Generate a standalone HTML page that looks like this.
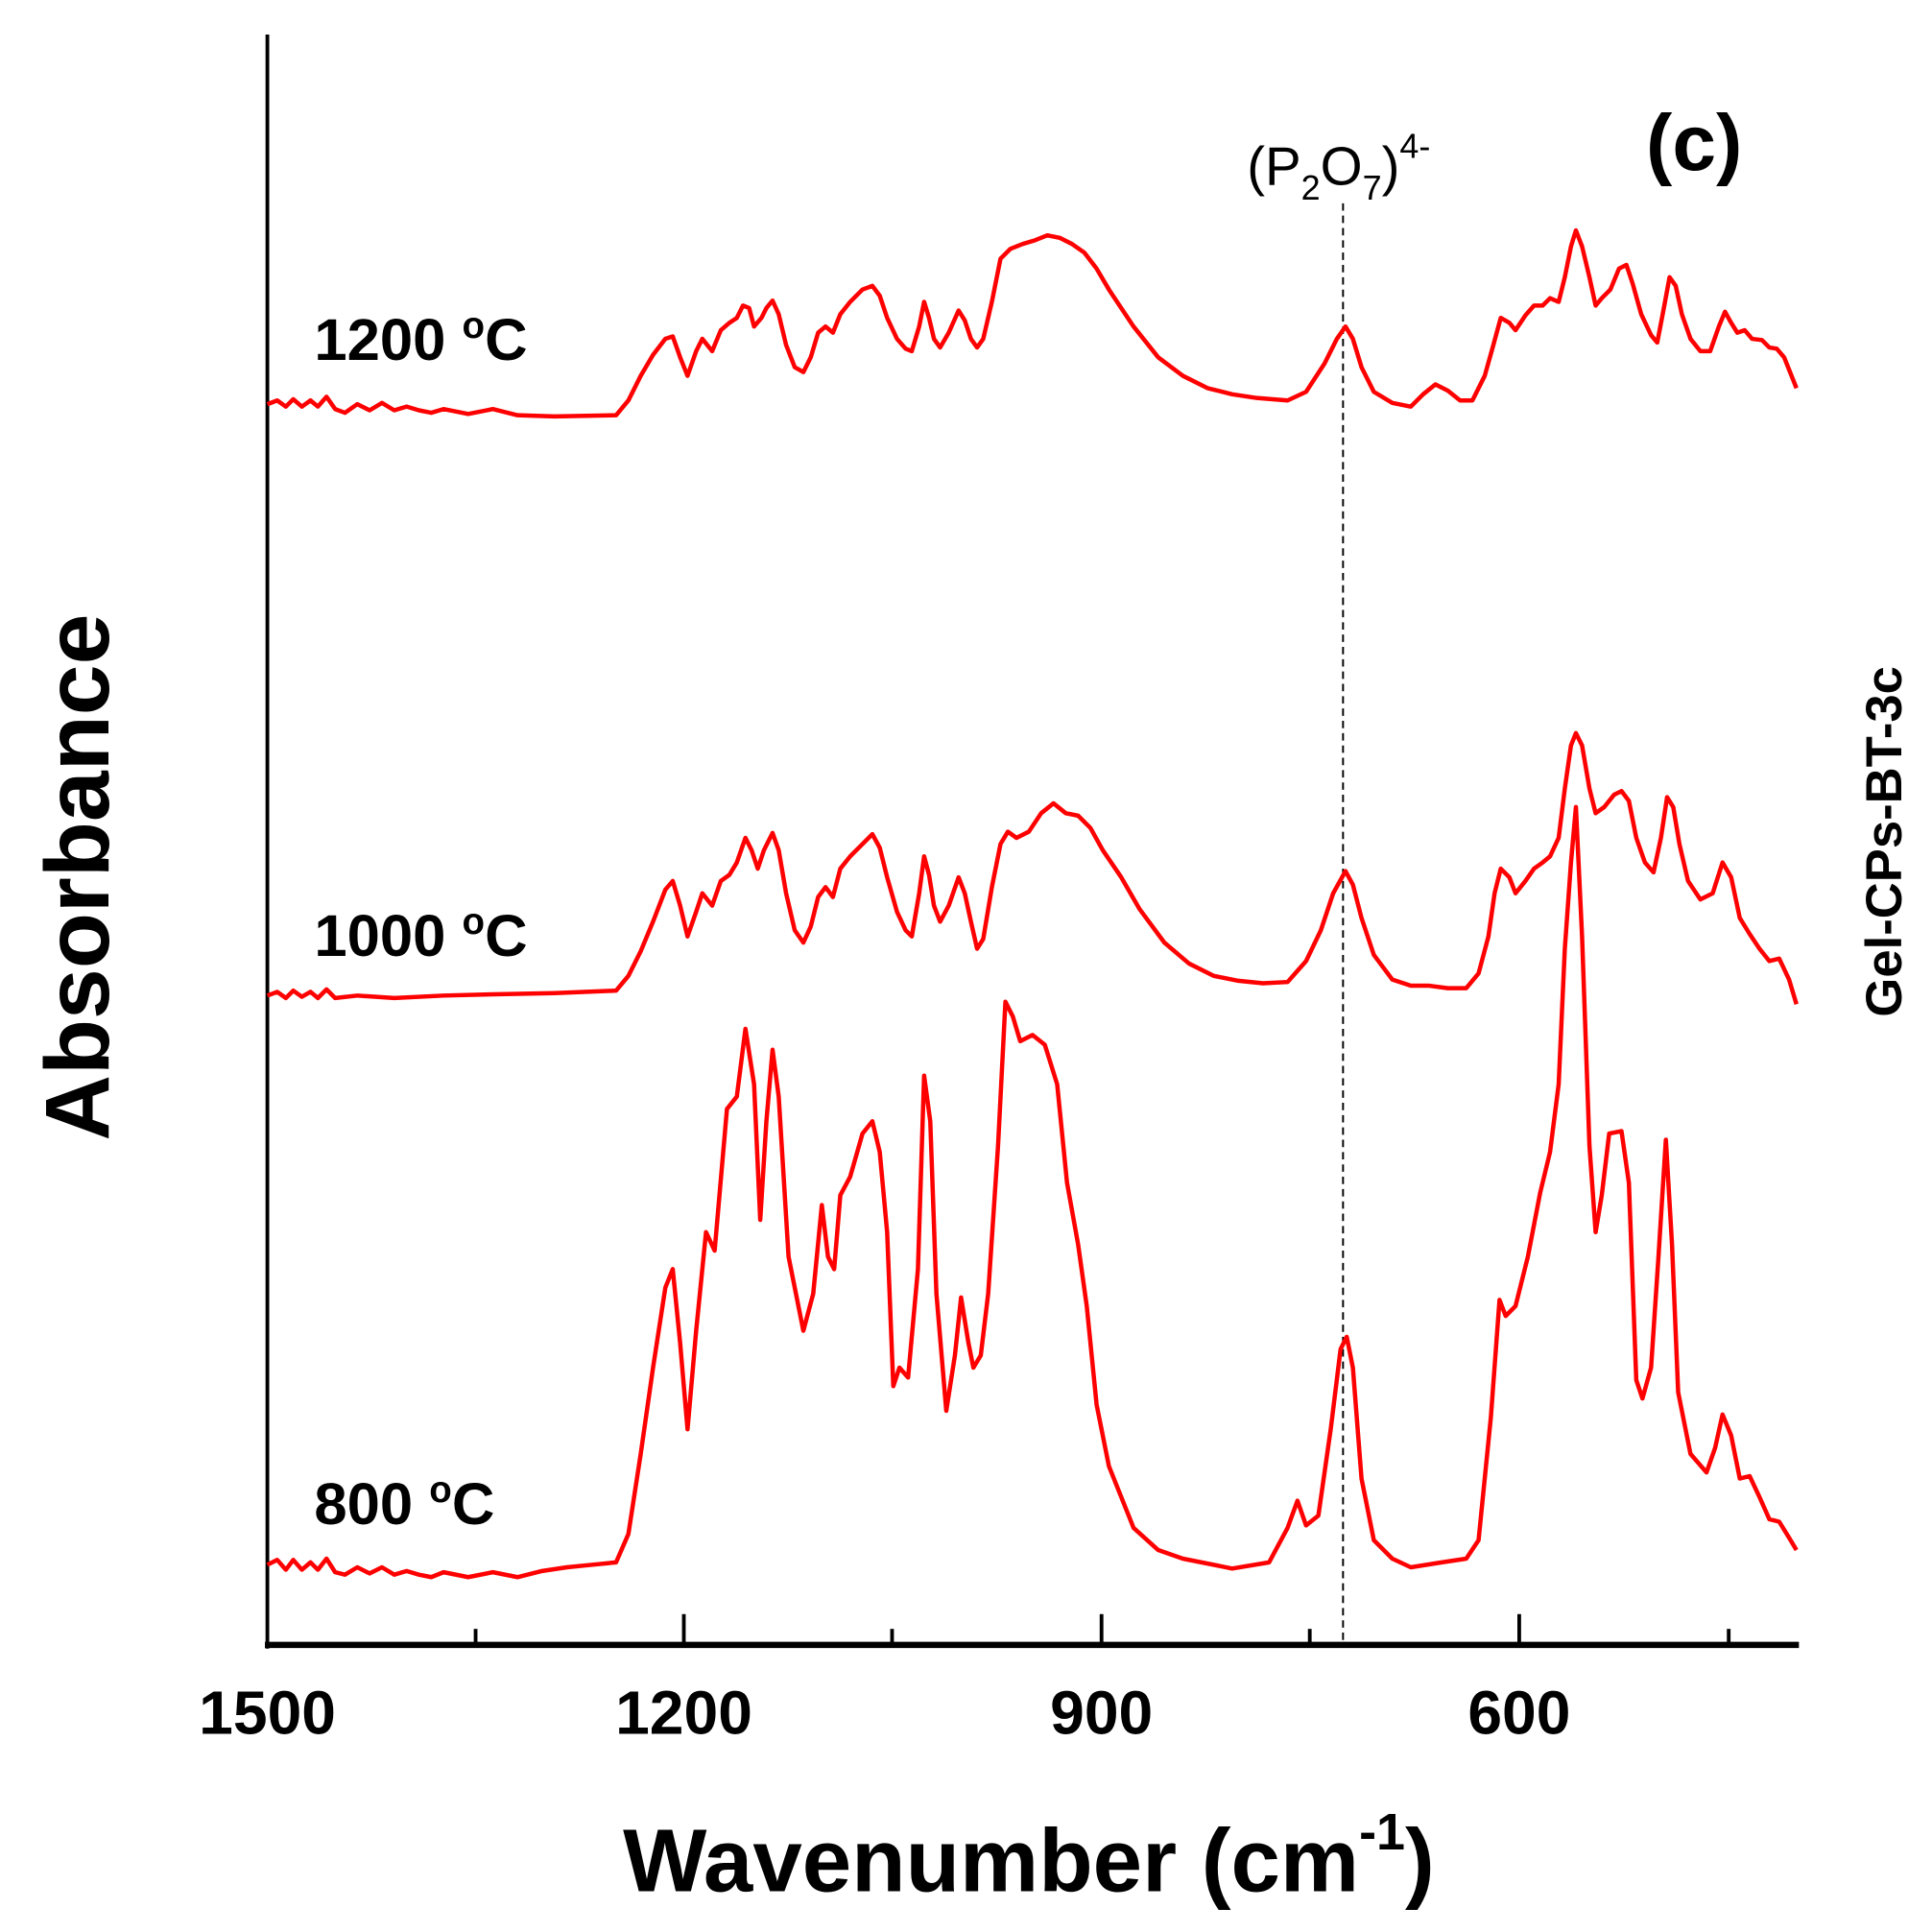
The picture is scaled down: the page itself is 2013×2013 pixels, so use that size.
<!DOCTYPE html>
<html><head><style>html,body{margin:0;padding:0;background:#fff}svg{display:block}</style></head>
<body>
<svg width="2013" height="2013" viewBox="0 0 1568 1568" xmlns="http://www.w3.org/2000/svg" font-family="'Liberation Sans', Arial, sans-serif">
<rect width="1568" height="1568" fill="#fff"/>
<!-- axes -->
<line x1="217" y1="28" x2="217" y2="1338" stroke="#000" stroke-width="3"/>
<line x1="215" y1="1335" x2="1460" y2="1335" stroke="#000" stroke-width="5"/>
<g stroke="#000" stroke-width="3">
<line x1="555" y1="1335" x2="555" y2="1310"/><line x1="894" y1="1335" x2="894" y2="1310"/><line x1="1233" y1="1335" x2="1233" y2="1310"/>
<line x1="386" y1="1335" x2="386" y2="1322"/><line x1="724" y1="1335" x2="724" y2="1322"/><line x1="1063" y1="1335" x2="1063" y2="1322"/><line x1="1403" y1="1335" x2="1403" y2="1322"/>
</g>
<line x1="1090" y1="165" x2="1090" y2="1333" stroke="#000" stroke-width="1.5" stroke-dasharray="6,4"/>
<g font-weight="bold" font-size="50" text-anchor="middle" fill="#000">
<text x="217" y="1407">1500</text><text x="555" y="1407">1200</text><text x="894" y="1407">900</text><text x="1233" y="1407">600</text>
</g>
<text x="835" y="1535" font-size="72" font-weight="bold" text-anchor="middle">Wavenumber (cm<tspan font-size="42" dy="-34">-1</tspan><tspan dy="34">)</tspan></text>
<text transform="translate(88,712) rotate(-90)" font-size="74" font-weight="bold" text-anchor="middle">Absorbance</text>
<text transform="translate(1543,683) rotate(-90)" font-size="41" font-weight="bold" text-anchor="middle">Gel-CPs-BT-3c</text>
<text x="1375" y="138" font-size="64" font-weight="bold" text-anchor="middle">(c)</text>
<text x="1012" y="150" font-size="44">(P<tspan font-size="28" dy="12">2</tspan><tspan dy="-12">O</tspan><tspan font-size="28" dy="12">7</tspan><tspan dy="-12">)</tspan><tspan font-size="28" dy="-22">4-</tspan></text>
<g font-size="48" font-weight="bold">
<text x="255" y="292">1200 <tspan font-size="30" dy="-18">o</tspan><tspan dy="18">C</tspan></text>
<text x="255" y="776">1000 <tspan font-size="30" dy="-18">o</tspan><tspan dy="18">C</tspan></text>
<text x="255" y="1237">800 <tspan font-size="30" dy="-18">o</tspan><tspan dy="18">C</tspan></text>
</g>
<g fill="none" stroke="#f00" stroke-width="3.5" stroke-linejoin="round">
<polyline points="217,328 225,325 232,330 238,324 245,330 252,325 258,330 265,322 272,332 280,335 290,328 300,333 310,327 320,333 330,330 340,333 350,335 360,332 380,336 400,332 420,337 450,338 500,337 510,325 520,305 530,288 540,275 546,273 552,290 558,305 565,285 570,275 578,285 585,268 592,262 598,258 603,248 608,250 612,265 618,258 622,250 627,244 632,255 638,280 645,298 652,302 658,290 664,270 670,265 676,270 682,255 690,245 700,235 708,232 714,240 720,258 728,275 735,283 740,285 746,265 750,245 754,258 758,275 763,282 770,270 778,252 783,260 788,275 793,282 798,275 805,245 812,210 820,202 830,198 840,195 850,191 860,193 870,198 880,205 890,218 900,235 920,265 940,290 960,305 980,315 1000,320 1020,323 1045,325 1060,318 1075,295 1085,275 1092,265 1098,275 1105,298 1115,318 1130,327 1145,330 1155,320 1165,312 1175,317 1185,325 1195,325 1205,305 1212,280 1218,258 1225,262 1230,268 1238,256 1245,248 1252,248 1258,242 1265,245 1270,225 1275,200 1279,187 1284,200 1290,225 1295,248 1300,242 1307,235 1314,218 1320,215 1325,230 1332,255 1340,272 1345,278 1350,252 1355,225 1360,232 1365,255 1372,275 1380,285 1388,285 1395,265 1400,253 1405,262 1410,270 1416,268 1422,275 1430,276 1436,282 1442,283 1448,290 1452,300 1458,315"/>
<polyline points="217,808 225,805 232,810 238,804 245,809 252,805 258,810 265,803 272,810 290,808 320,810 360,808 400,807 450,806 500,804 510,792 520,772 530,748 540,722 546,715 552,735 558,760 565,740 570,725 578,735 585,715 592,710 598,700 605,680 610,690 615,705 620,690 627,676 632,690 638,725 645,755 652,765 658,752 664,728 670,720 676,728 682,705 690,695 700,685 708,677 714,688 720,712 728,740 735,755 740,760 746,725 750,695 754,710 758,735 763,748 770,735 778,712 783,725 788,748 793,770 798,762 805,720 812,685 818,675 825,680 835,675 845,660 855,652 865,660 875,662 885,672 895,690 910,712 925,738 945,765 965,782 985,792 1005,796 1025,798 1045,797 1060,780 1072,755 1082,725 1092,707 1098,718 1105,745 1115,775 1130,795 1145,800 1160,800 1175,802 1190,802 1200,790 1208,760 1213,725 1218,705 1225,712 1230,725 1238,715 1245,705 1252,700 1258,695 1265,680 1270,640 1275,605 1279,595 1284,605 1290,640 1295,660 1302,655 1310,645 1316,642 1322,650 1328,680 1335,700 1342,708 1348,680 1353,647 1358,655 1363,685 1370,715 1380,730 1390,725 1398,700 1405,712 1412,745 1420,758 1428,770 1436,780 1444,778 1452,795 1458,815"/>
<polyline points="217,1270 225,1266 232,1274 238,1266 245,1274 252,1268 258,1274 265,1265 272,1276 280,1278 290,1272 300,1277 310,1272 320,1278 330,1275 340,1278 350,1280 360,1276 380,1280 400,1276 420,1280 440,1275 460,1272 480,1270 500,1268 510,1245 520,1180 530,1110 540,1045 546,1030 552,1090 558,1160 565,1080 573,1000 580,1015 590,900 598,890 605,835 612,880 617,990 622,910 627,852 632,890 640,1020 652,1080 660,1050 667,978 672,1020 677,1030 682,970 690,955 700,920 708,910 714,935 720,1000 725,1125 730,1110 737,1118 745,1030 750,873 755,910 760,1050 768,1145 775,1100 780,1053 786,1090 790,1110 796,1100 802,1050 810,930 816,813 822,825 828,845 838,840 848,848 858,880 866,960 875,1010 882,1060 890,1140 900,1190 920,1240 940,1258 960,1265 1000,1273 1030,1268 1045,1240 1053,1218 1060,1238 1070,1230 1080,1160 1088,1095 1093,1085 1098,1110 1105,1200 1115,1250 1130,1265 1145,1272 1170,1268 1190,1265 1200,1250 1210,1150 1217,1055 1222,1068 1230,1060 1240,1020 1250,968 1258,935 1265,880 1270,770 1275,700 1279,655 1284,760 1290,930 1295,1000 1300,970 1306,920 1316,918 1322,960 1328,1120 1333,1135 1340,1110 1346,1020 1352,925 1357,1010 1362,1130 1372,1180 1385,1195 1392,1175 1398,1148 1405,1165 1412,1200 1420,1198 1428,1215 1436,1233 1444,1235 1452,1248 1458,1258"/>
</g>
</svg>
</body></html>
